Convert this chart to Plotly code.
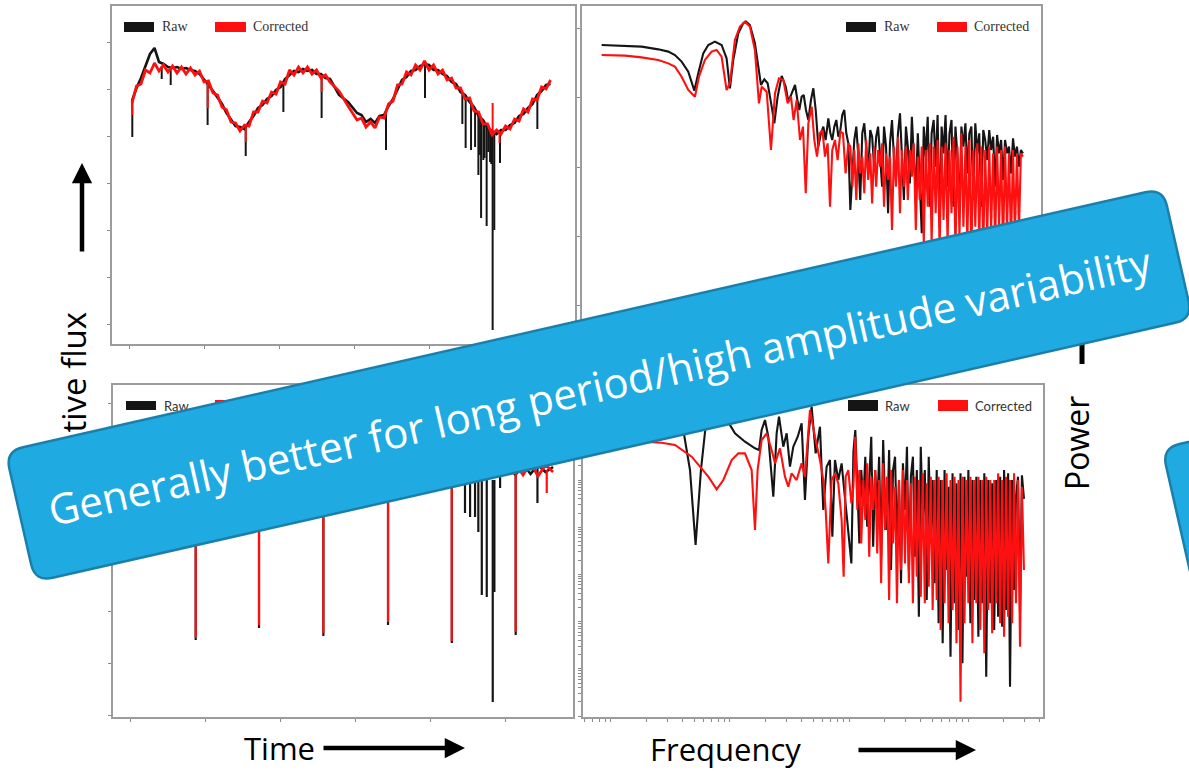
import math
import plotly.graph_objects as go

W, H = 1189, 771

# ---------------- data: top-left light curve (time in days, relative flux) ----------------
tl_time = [0.2, 0.5, 0.8, 1.1, 1.4, 1.7, 2.0, 2.3, 2.6, 2.9, 3.2, 3.5, 3.8, 4.1, 4.4, 4.7, 5.0, 5.3, 5.6, 5.9,
           6.2, 6.5, 6.8, 7.1, 7.4, 7.7, 8.0, 8.3, 8.6, 8.9, 9.2, 9.5, 9.8, 10.1, 10.4, 10.7, 11.0, 11.3, 11.6, 11.9,
           12.2, 12.5, 12.8, 13.1, 13.4, 14.0, 14.6, 15.2, 15.5, 15.8, 16.1, 16.4, 16.7, 17.0, 17.3, 17.6, 17.9, 18.2,
           18.5, 18.8, 19.1, 19.4, 19.7, 20.0, 20.3, 20.6, 20.9, 21.2, 21.5, 21.8, 22.1, 22.4, 22.7, 23.0, 23.3, 23.6,
           23.9, 24.2, 24.5, 24.8, 25.1, 25.4, 25.7, 26.0, 26.3, 26.6, 26.9, 27.2, 27.5, 27.8, 28.1]
tl_raw_flux = [0.899, 0.912, 0.922, 0.935, 0.946, 0.952, 0.938, 0.936, 0.933, 0.932, 0.933, 0.931, 0.932, 0.930, 0.929,
               0.926, 0.921, 0.915, 0.909, 0.902, 0.896, 0.887, 0.881, 0.874, 0.873, 0.871, 0.878, 0.884, 0.892, 0.895,
               0.901, 0.904, 0.910, 0.913, 0.921, 0.925, 0.929, 0.928, 0.931, 0.929, 0.930, 0.926, 0.926, 0.922, 0.921,
               0.905, 0.898, 0.887,
               0.885, 0.878, 0.881, 0.877, 0.884, 0.885, 0.894, 0.901, 0.911, 0.920, 0.923, 0.929, 0.930, 0.934, 0.936,
               0.935, 0.930, 0.930, 0.926, 0.924, 0.918, 0.916, 0.908, 0.905, 0.898, 0.893, 0.884, 0.880, 0.872, 0.869,
               0.866, 0.870, 0.870, 0.875, 0.877, 0.884, 0.886, 0.892, 0.896, 0.905, 0.909, 0.915, 0.916]
tl_cor_flux = [0.897, 0.914, 0.916, 0.930, 0.927, 0.937, 0.929, 0.935, 0.928, 0.934, 0.927, 0.933, 0.926, 0.932, 0.925,
               0.929, 0.918, 0.919, 0.907, 0.905, 0.893, 0.890, 0.878, 0.877, 0.869, 0.875, 0.874, 0.888, 0.888, 0.899,
               0.897, 0.908, 0.906, 0.918, 0.916, 0.930, 0.925, 0.933, 0.927, 0.933, 0.926, 0.930, 0.922, 0.925, 0.918,
               0.909, 0.894, 0.880,
               0.882, 0.873, 0.878, 0.872, 0.883, 0.882, 0.896, 0.899, 0.915, 0.916, 0.928, 0.925, 0.935, 0.930, 0.939,
               0.930, 0.935, 0.926, 0.930, 0.920, 0.922, 0.912, 0.912, 0.901, 0.902, 0.889, 0.888, 0.876, 0.876, 0.865,
               0.870, 0.866, 0.874, 0.871, 0.881, 0.879, 0.891, 0.888, 0.901, 0.900, 0.913, 0.911, 0.920]
tl_raw_spike_time = [0.22, 2.18, 2.78, 5.24, 7.78, 10.29, 12.84, 17.13, 19.73, 22.22, 22.44, 22.80, 23.07, 23.29,
                     23.40, 23.47, 23.62, 23.70, 23.84, 23.95, 24.07, 24.15, 24.24, 24.35, 24.73, 27.22]
tl_raw_spike_top = [0.900, 0.934, 0.932, 0.917, 0.873, 0.918, 0.925, 0.890, 0.935, 0.908, 0.905, 0.898, 0.891, 0.885,
                    0.883, 0.882, 0.880, 0.878, 0.875, 0.873, 0.871, 0.869, 0.868, 0.868, 0.868, 0.905]
tl_raw_spike_tip = [0.863, 0.921, 0.915, 0.875, 0.844, 0.888, 0.882, 0.850, 0.902, 0.876, 0.852, 0.850, 0.853, 0.825,
                    0.845, 0.782, 0.840, 0.842, 0.774, 0.848, 0.838, 0.836, 0.670, 0.770, 0.837, 0.871]
tl_cor_spike_time = [0.22, 5.25, 7.78, 12.84, 24.24, 24.70]
tl_cor_spike_top = [0.900, 0.917, 0.873, 0.925, 0.868, 0.868]
tl_cor_spike_tip = [0.885, 0.892, 0.858, 0.908, 0.897, 0.857]

# ---------------- data: bottom-left light curve ----------------
bl_time = [0.2, 0.7, 1.2, 1.7, 2.2, 2.7, 3.2, 3.7, 4.2, 4.7, 5.2, 5.7, 6.2, 6.7, 7.2, 7.7, 8.2, 8.7, 9.2, 9.7,
           10.2, 10.7, 11.2, 11.7, 12.2, 12.7, 13.2, 13.7, 14.2, 14.7, 15.2, 15.7, 16.2, 16.7, 17.2, 17.7, 18.2, 18.7,
           19.2, 19.7, 20.2, 20.7, 21.2, 21.7, 22.2, 22.7, 23.2, 23.7, 24.2, 24.7, 25.2, 25.7, 26.2, 26.7, 27.2, 27.7,
           28.2]
bl_raw_flux = [0.920, 0.916, 0.923, 0.918, 0.921, 0.915, 0.922, 0.919, 0.920, 0.917,
               0.923, 0.918, 0.920, 0.916, 0.922, 0.919, 0.921, 0.917, 0.923, 0.918,
               0.920, 0.916, 0.922, 0.919, 0.921, 0.915, 0.923, 0.918, 0.920, 0.917,
               0.922, 0.918, 0.921, 0.916, 0.923, 0.919, 0.920, 0.917, 0.922, 0.918,
               0.921, 0.916, 0.922, 0.918, 0.910, 0.915, 0.905, 0.912, 0.908, 0.914,
               0.918, 0.910, 0.921, 0.911, 0.920, 0.913, 0.918]
bl_cor_flux = [0.915, 0.921, 0.917, 0.923, 0.918, 0.922, 0.916, 0.921, 0.919, 0.924,
               0.917, 0.921, 0.918, 0.923, 0.916, 0.920, 0.918, 0.922, 0.917, 0.921,
               0.919, 0.924, 0.916, 0.921, 0.918, 0.922, 0.917, 0.923, 0.918, 0.921,
               0.916, 0.922, 0.919, 0.923, 0.917, 0.921, 0.918, 0.922, 0.916, 0.921,
               0.919, 0.923, 0.917, 0.922, 0.918, 0.921, 0.916, 0.922, 0.918, 0.923,
               0.912, 0.921, 0.910, 0.922, 0.909, 0.920, 0.913]
bl_raw_spike_time = [4.38, 8.60, 12.89, 17.20, 21.45, 22.33, 22.67, 23.00, 23.22, 23.45, 23.78, 24.18, 24.29, 24.67,
                     25.71, 27.16]
bl_raw_spike_top = [0.920, 0.919, 0.921, 0.920, 0.919, 0.912, 0.910, 0.908, 0.908, 0.906, 0.905, 0.905, 0.905, 0.910,
                    0.920, 0.918]
bl_raw_spike_tip = [0.745, 0.757, 0.749, 0.760, 0.742, 0.872, 0.868, 0.868, 0.853, 0.790, 0.788, 0.683, 0.793, 0.897,
                    0.750, 0.882]
bl_cor_spike_time = [4.38, 8.60, 12.89, 17.20, 21.45, 25.71, 27.78]
bl_cor_spike_top = [0.920, 0.919, 0.921, 0.920, 0.919, 0.920, 0.915]
bl_cor_spike_tip = [0.747, 0.760, 0.752, 0.763, 0.744, 0.753, 0.892]

# ---------------- data: power spectra (log10 frequency, log10 power) ----------------
hf_log10_freq = [1.020, 1.037, 1.053, 1.070, 1.087, 1.103, 1.120, 1.137, 1.153, 1.170,
                 1.187, 1.203, 1.220, 1.237, 1.253, 1.270, 1.287, 1.303, 1.320, 1.337,
                 1.353, 1.370, 1.387, 1.403, 1.420, 1.437, 1.453, 1.470, 1.487, 1.503,
                 1.520, 1.537, 1.553, 1.570, 1.587, 1.603, 1.620, 1.637, 1.653, 1.670,
                 1.687, 1.703, 1.720, 1.737, 1.753, 1.770, 1.787, 1.803, 1.820, 1.837,
                 1.853, 1.870, 1.887, 1.903, 1.920, 1.937, 1.953, 1.970, 1.987, 2.003,
                 2.020, 2.037, 2.053, 2.070, 2.087, 2.103, 2.120, 2.137, 2.153, 2.170,
                 2.187, 2.203, 2.220, 2.237, 2.253, 2.270, 2.287, 2.303, 2.320, 2.337,
                 2.353, 2.370, 2.387, 2.403, 2.420, 2.437, 2.453, 2.470]

tr_raw_lo_log10_freq = [-1.070, -0.874, -0.734, -0.594, -0.510, -0.454, -0.398, -0.342, -0.291, -0.258, -0.216,
                        -0.174, -0.118, -0.062, -0.020, 0.008, 0.036, 0.078, 0.120, 0.143, 0.176, 0.218, 0.246,
                        0.269, 0.297, 0.325, 0.359, 0.381, 0.409, 0.443, 0.477, 0.499, 0.527, 0.555, 0.575, 0.591,
                        0.611, 0.628, 0.647, 0.667, 0.689, 0.709, 0.729, 0.751, 0.773, 0.793, 0.812, 0.835, 0.852,
                        0.868, 0.885, 0.902, 0.919, 0.936, 0.952, 0.969, 0.986, 1.003]
tr_raw_lo_log10_power = [-0.232, -0.242, -0.256, -0.295, -0.328, -0.377, -0.473, -0.618, -0.894, -0.643, -0.353,
                         -0.232, -0.184, -0.232, -0.425, -0.860, -0.449, -0.063, 0.082, 0.106, 0.058, -0.208, -0.546,
                         -0.812, -0.729, -0.787, -1.126, -1.367, -0.981, -0.681, -0.836, -1.053, -0.932, -0.812,
                         -1.029, -1.174, -0.981, -0.957, -1.174, -1.319, -1.029, -0.860, -1.174, -1.705, -1.512,
                         -1.415, -1.609, -1.295, -1.512, -1.609, -1.415, -1.319, -1.561, -1.464, -1.246, -1.174,
                         -1.512, -1.657]
tr_raw_hi_log10_power = [-2.623, -1.995, -1.609, -1.415, -1.850, -2.478, -1.512, -1.367, -1.705, -2.092,
                         -1.464, -1.561, -1.995, -1.561, -1.415, -1.850, -2.285, -1.415, -1.705, -2.671,
                         -1.657, -1.319, -1.899, -2.188, -1.512, -1.222, -1.754, -2.478, -1.415, -1.705,
                         -2.237, -1.271, -1.850, -2.381, -1.512, -2.285, -2.961, -1.415, -1.850, -1.271,
                         -2.575, -1.512, -1.319, -1.995, -1.246, -2.865, -1.415, -1.802, -1.246, -2.285,
                         -1.512, -1.319, -2.575, -1.415, -1.850, -2.671, -1.415, -1.705, -1.367, -2.092,
                         -1.512, -1.415, -2.478, -1.367, -1.802, -1.512, -2.575, -1.464, -1.609, -1.899,
                         -1.464, -1.754, -1.561, -2.285, -1.536, -1.802, -1.609, -2.188, -1.609, -1.802,
                         -1.705, -2.092, -1.585, -1.850, -1.705, -1.995, -1.754, -1.802]
tr_cor_lo_log10_freq = [-1.070, -0.874, -0.734, -0.594, -0.510, -0.454, -0.398, -0.342, -0.286, -0.252, -0.202,
                        -0.146, -0.104, -0.062, -0.020, 0.008, 0.050, 0.092, 0.134, 0.176, 0.218, 0.252, 0.275,
                        0.317, 0.353, 0.387, 0.420, 0.457, 0.493, 0.521, 0.543, 0.569, 0.597, 0.622, 0.645, 0.667,
                        0.695, 0.717, 0.740, 0.762, 0.785, 0.807, 0.829, 0.849, 0.868, 0.891, 0.913, 0.936, 0.958,
                        0.980, 1.003]
tr_cor_lo_log10_power = [-0.377, -0.386, -0.411, -0.449, -0.498, -0.546, -0.691, -0.884, -0.981, -0.691, -0.449,
                         -0.328, -0.304, -0.401, -0.884, -0.787, -0.159, 0.034, 0.106, 0.034, -0.304, -1.077, -0.836,
                         -0.908, -1.754, -0.932, -0.715, -0.739, -1.077, -0.981, -1.319, -1.029, -1.609, -1.415,
                         -2.381, -1.367, -1.126, -1.609, -1.850, -1.512, -1.464, -1.850, -1.657, -2.575, -1.754,
                         -1.609, -1.899, -1.488, -1.512, -2.092, -1.657]
tr_cor_hi_log10_power = [-1.705, -2.285, -1.754, -2.478, -1.657, -2.092, -1.850, -2.381, -1.609, -2.188,
                         -1.802, -2.527, -1.705, -2.285, -1.754, -1.995, -1.657, -2.575, -1.802, -2.188,
                         -1.850, -2.913, -1.705, -2.285, -1.561, -2.671, -1.754, -2.285, -1.705, -2.478,
                         -1.754, -2.140, -1.657, -2.913, -1.850, -2.478, -1.705, -3.100, -1.754, -2.575,
                         -1.657, -3.100, -1.705, -2.671, -1.609, -3.200, -1.705, -2.768, -1.657, -3.100,
                         -1.754, -2.671, -1.561, -3.200, -1.705, -3.000, -1.512, -2.865, -1.705, -3.100,
                         -1.609, -3.300, -1.754, -2.865, -1.657, -3.100, -1.705, -3.200, -1.754, -3.000,
                         -1.705, -2.913, -1.802, -3.100, -1.705, -2.865, -1.754, -3.200, -1.705, -2.913,
                         -1.802, -3.100, -1.754, -3.000, -1.802, -2.913, -1.802, -1.850]

br_raw_lo_log10_freq = [-1.303, -1.022, -0.742, -0.518, -0.406, -0.336, -0.289, -0.244, -0.196, -0.126, -0.042,
                        0.042, 0.126, 0.210, 0.244, 0.266, 0.294, 0.322, 0.364, 0.392, 0.412, 0.448, 0.476, 0.504,
                        0.532, 0.569, 0.602, 0.630, 0.658, 0.686, 0.720, 0.756, 0.784, 0.812, 0.840, 0.860, 0.882,
                        0.910, 0.938, 0.966, 0.994]
br_raw_lo_log10_power = [1.659, 1.659, 1.625, 1.553, 1.271, 0.212, -1.377, 0.212, 1.341, 1.553, 1.341, 0.989, 0.812,
                         0.671, 0.636, 1.059, 1.271, 0.918, -0.353, 0.989, 1.341, 0.706, 0.989, 0.282, 0.706, 0.918,
                         1.200, -0.424, 0.918, 1.553, 0.565, 1.130, -0.636, 0.282, 0.424, -1.201, 0.424, 0.000,
                         0.353, -0.353, -1.059]
br_raw_hi_log10_power = [-1.766, 0.600,
                         1.059, -0.141, -1.342, 0.212, -0.494, 0.494, -0.989, 0.000, 0.918, -1.412,
                         0.212, -0.636, 0.494, -1.624, 0.847, -0.494, -1.059, 0.636, -1.907, 0.212,
                         0.494, -1.342, 0.000, -2.189, 0.353, -0.636, 0.706, -1.907, 0.071, 0.494,
                         -1.624, 0.212, -2.895, 0.706, -0.847, 0.212, -2.542, 0.494, -1.342, 0.000,
                         -2.189, 0.212, -3.037, 0.000, -3.460, 0.212, -1.907, -0.141, -3.743, 0.141,
                         -2.613, -0.071, -3.178, 0.141, -3.884, 0.071, -2.048, 0.212, -3.037, 0.000,
                         -2.542, 0.071, -3.319, 0.000, -2.613, 0.141, -4.167, 0.000, -2.613, -0.071,
                         -3.178, 0.000, -2.895, 0.071, -3.107, 0.212, -2.754, 0.141, -4.379, 0.000,
                         -2.331, -0.353,
                         0.071, -2.800, 0.100, -0.400]
br_cor_lo_log10_freq = [-1.303, -1.022, -0.742, -0.574, -0.462, -0.322, -0.182, -0.112, -0.056, 0.014, 0.070, 0.126,
                        0.182, 0.210, 0.232, 0.266, 0.308, 0.350, 0.378, 0.420, 0.462, 0.490, 0.518, 0.560, 0.602,
                        0.630, 0.672, 0.714, 0.756, 0.784, 0.804, 0.826, 0.854, 0.882, 0.910, 0.938, 0.955, 0.972,
                        0.994]
br_cor_lo_log10_power = [0.812, 0.812, 0.812, 0.791, 0.742, 0.494, 0.071, -0.198, 0.000, 0.424, 0.565, 0.565, 0.212,
                         -1.059, 0.212, 0.847, 0.989, 0.636, 0.353, 0.671, 0.071, -0.141, 0.141, 0.000, 0.353, 0.071,
                         1.483, 0.918, 0.424, 0.000, -0.636, -1.766, 0.000, 0.141, -0.071, -0.847, -2.048, 0.071,
                         0.212]
br_cor_hi_log10_power = [-0.494, -0.141, 0.918, -0.636, 0.212, -1.342, 0.000, -0.847, 0.353, -1.624,
                         0.071, -0.636, 0.212, -1.554, 0.000, -2.189, 0.353, -1.059, 0.071, -2.542,
                         0.212, -1.342, -0.141, -2.613, 0.000, -1.907, 0.212, -1.766, 0.000, -2.189,
                         -0.071, -2.613, 0.071, -2.048, 0.000, -2.472, 0.141, -2.613, -0.071, -2.260,
                         0.071, -2.754, 0.000, -2.542, 0.071, -3.178, 0.000, -2.613, 0.141, -3.037,
                         0.000, -2.754, 0.071, -3.460, 0.000, -4.696, 0.071, -3.037, 0.000, -2.613,
                         0.071, -3.460, 0.000, -2.613, 0.071, -3.178, 0.000, -3.672, 0.071, -2.754,
                         0.000, -3.249, 0.000, -2.613, 0.141, -3.037, 0.000, -3.319, 0.071, -2.895,
                         0.000, -3.037, 0.141, -2.613, 0.000, -3.531, -0.141, -1.907]

legend_names = ["Raw", "Corrected"]
callout_text = "Generally better for long period/high amplitude variability"

for a, b in [(tl_time, tl_raw_flux), (tl_time, tl_cor_flux), (bl_time, bl_raw_flux), (bl_time, bl_cor_flux),
             (tr_raw_lo_log10_freq, tr_raw_lo_log10_power), (tr_cor_lo_log10_freq, tr_cor_lo_log10_power),
             (hf_log10_freq, tr_raw_hi_log10_power), (hf_log10_freq, tr_cor_hi_log10_power),
             (br_raw_lo_log10_freq, br_raw_lo_log10_power), (br_cor_lo_log10_freq, br_cor_lo_log10_power),
             (hf_log10_freq, br_raw_hi_log10_power), (hf_log10_freq, br_cor_hi_log10_power)]:
    assert len(a) == len(b), (len(a), len(b))

# ---------------- styling ----------------
BLACK = "#151515"
RED = "#ff1010"
FRAME = "#9c9c9c"
BLUE = "#1fabe1"
BLUE_EDGE = "#1b7fab"


def spikes(t, top, tip):
    xs, ys = [], []
    for a, b, c in zip(t, top, tip):
        xs += [a, a, None]
        ys += [b, c, None]
    return xs, ys


def pw(v):
    return [10 ** x for x in v]


fig = go.Figure()


def add_line(x, y, color, xa, ya, width=1.6):
    fig.add_trace(go.Scatter(x=x, y=y, mode="lines", line=dict(color=color, width=width),
                             xaxis=xa, yaxis=ya, showlegend=False, hoverinfo="skip"))


# top-left
add_line(tl_time, tl_raw_flux, BLACK, "x", "y", 2.6)
sx, sy = spikes(tl_raw_spike_time, tl_raw_spike_top, tl_raw_spike_tip)
add_line(sx, sy, BLACK, "x", "y", 2)
add_line(tl_time, tl_cor_flux, RED, "x", "y", 2.8)
sx, sy = spikes(tl_cor_spike_time, tl_cor_spike_top, tl_cor_spike_tip)
add_line(sx, sy, RED, "x", "y", 2)

# top-right
add_line(pw(tr_raw_lo_log10_freq + hf_log10_freq), pw(tr_raw_lo_log10_power + tr_raw_hi_log10_power),
         BLACK, "x2", "y2", 2.1)
add_line(pw(tr_cor_lo_log10_freq + hf_log10_freq), pw(tr_cor_lo_log10_power + tr_cor_hi_log10_power),
         RED, "x2", "y2", 2.1)

# bottom-left
add_line(bl_time, bl_raw_flux, BLACK, "x3", "y3", 2.6)
sx, sy = spikes(bl_raw_spike_time, bl_raw_spike_top, bl_raw_spike_tip)
add_line(sx, sy, BLACK, "x3", "y3", 2.2)
add_line(bl_time, bl_cor_flux, RED, "x3", "y3", 2.8)
sx, sy = spikes(bl_cor_spike_time, bl_cor_spike_top, bl_cor_spike_tip)
add_line(sx, sy, RED, "x3", "y3", 2.2)

# bottom-right
add_line(pw(br_raw_lo_log10_freq + hf_log10_freq), pw(br_raw_lo_log10_power + br_raw_hi_log10_power),
         BLACK, "x4", "y4", 2.1)
add_line(pw(br_cor_lo_log10_freq + hf_log10_freq), pw(br_cor_lo_log10_power + br_cor_hi_log10_power),
         RED, "x4", "y4", 2.1)


def frame(**kw):
    d = dict(showline=True, mirror=True, linecolor=FRAME, linewidth=1.5, showgrid=False, zeroline=False,
             showticklabels=False, ticks="outside", ticklen=3, tickcolor="#8a8a8a", tickwidth=1)
    d.update(kw)
    return d


def X(px):
    return px / W


def Y(py):
    return 1 - py / H


fig.update_layout(
    width=W, height=H, margin=dict(l=0, r=0, t=0, b=0),
    paper_bgcolor="white", plot_bgcolor="white", showlegend=False,
    xaxis=frame(domain=[X(112), X(575)], range=[-1.133, 29.73], tick0=0, dtick=5, anchor="y"),
    yaxis=frame(domain=[Y(344), Y(6)], range=[0.656, 0.994], tick0=0.958, dtick=0.047, anchor="x"),
    xaxis2=frame(domain=[X(582), X(1041)], type="log", range=[-1.235, 2.622], dtick="D1", anchor="y2"),
    yaxis2=frame(domain=[Y(344), Y(6)], type="log", range=[-4.565, 0.333], dtick=1, anchor="x2"),
    xaxis3=frame(domain=[X(113), X(573)], range=[-1.133, 29.53], tick0=0, dtick=5, anchor="y3"),
    yaxis3=frame(domain=[Y(717), Y(385)], range=[0.668, 1.0], tick0=0.982, dtick=0.052, anchor="x3"),
    xaxis4=frame(domain=[X(583), X(1043)], type="log", range=[-1.235, 2.630], dtick="D1", anchor="y4"),
    yaxis4=frame(domain=[Y(717), Y(385)], type="log", range=[-5.021, 2.013], dtick="D1", anchor="x4"),
)


def pp(pt):
    return f"{pt[0] / W:.5f},{1 - pt[1] / H:.5f}"


def rot_rect(cx, cy, w, h, ang_deg):
    a = math.radians(ang_deg)
    ux, uy = math.cos(a), -math.sin(a)
    vx, vy = math.sin(a), math.cos(a)
    hw, hh = w / 2, h / 2
    return [(cx - hw * ux - hh * vx, cy - hw * uy - hh * vy),
            (cx + hw * ux - hh * vx, cy + hw * uy - hh * vy),
            (cx + hw * ux + hh * vx, cy + hw * uy + hh * vy),
            (cx - hw * ux + hh * vx, cy - hw * uy + hh * vy)]


def rounded_path(pts, r):
    n = len(pts)
    s = ""
    for i in range(n):
        P = pts[i]
        A = pts[i - 1]
        B = pts[(i + 1) % n]

        def toward(Q):
            dx, dy = Q[0] - P[0], Q[1] - P[1]
            L = math.hypot(dx, dy)
            return (P[0] + dx / L * r, P[1] + dy / L * r)

        p1, p2 = toward(A), toward(B)
        s += ("M" if i == 0 else "L") + pp(p1) + " Q" + pp(P) + " " + pp(p2) + " "
    return s + "Z"


def rect(x0, y0, x1, y1, color):
    return dict(type="rect", xref="paper", yref="paper", x0=X(x0), x1=X(x1), y0=Y(y1), y1=Y(y0),
                fillcolor=color, line=dict(width=0), layer="above")


def label_box(cx, cy, text, size, color, family, angle=0, pos="middle center", w=10, h=10):
    return dict(type="rect", xref="paper", yref="paper",
                x0=X(cx - w / 2), x1=X(cx + w / 2), y0=Y(cy + h / 2), y1=Y(cy - h / 2),
                fillcolor="rgba(0,0,0,0)", line=dict(width=0), layer="above",
                label=dict(text=text, textangle=angle, textposition=pos, padding=0,
                           font=dict(family=family, size=size, color=color)))


ANG = 12.8
shapes = [
    # legend swatches
    rect(124, 22, 154, 32, BLACK), rect(215, 22, 246, 32, RED),
    rect(846, 22, 876, 32, BLACK), rect(937, 22, 967, 32, RED),
    rect(126, 401, 156, 410, BLACK), rect(215, 400, 246, 410, RED),
    rect(848, 400, 878, 411, BLACK), rect(938, 400, 968, 411, RED),
    # bottom-left legend texts (partly under the callout)
    label_box(161 + 30, 405.5, legend_names[0], 13, "#333333", "Lato", pos="middle left", w=60, h=12),
    label_box(251 + 40, 405.5, legend_names[1], 13, "#333333", "Lato", pos="middle left", w=80, h=12),
    # y-axis label on the left (partly hidden by the callout)
    label_box(75, 405, "Relative flux", 33, "black", "Open Sans", angle=-90),
    # tail of the Power arrow
    dict(type="line", xref="paper", yref="paper", x0=X(1082), x1=X(1082), y0=Y(364), y1=Y(240),
         line=dict(color="black", width=5), layer="above"),
    # main callout
    dict(type="path", xref="paper", yref="paper", layer="above",
         path=rounded_path(rot_rect(599, 385, 1187, 134, ANG), 18),
         fillcolor=BLUE, line=dict(color=BLUE_EDGE, width=2.5)),
]
a = math.radians(ANG)
tlx, tly = 1162, 448
cx2 = tlx + 160 * math.cos(a) + 160 * math.sin(a)
cy2 = tly - 160 * math.sin(a) + 160 * math.cos(a)
shapes.append(dict(type="path", xref="paper", yref="paper", layer="above",
                   path=rounded_path(rot_rect(cx2, cy2, 320, 320, ANG), 18),
                   fillcolor=BLUE, line=dict(color=BLUE_EDGE, width=2.5)))
shapes.append(label_box(600, 388, callout_text, 42, "white", "Open Sans", angle=-ANG))
fig.update_layout(shapes=shapes)

ann = []


def text(x, y, s, size, family, color="black", xanchor="center", angle=0):
    ann.append(dict(x=X(x), y=Y(y), xref="paper", yref="paper", text=s, showarrow=False,
                    xanchor=xanchor, yanchor="middle", textangle=angle,
                    font=dict(size=size, family=family, color=color)))


text(160, 27, legend_names[0], 14, "Liberation Serif", "#333333", "left")
text(251, 27, legend_names[1], 14, "Liberation Serif", "#333333", "left")
text(882, 27, legend_names[0], 14, "Liberation Serif", "#333333", "left")
text(972, 27, legend_names[1], 14, "Liberation Serif", "#333333", "left")
text(883, 405.5, legend_names[0], 13, "Lato", "#333333", "left")
text(973, 405.5, legend_names[1], 13, "Lato", "#333333", "left")
text(279, 748, "Time", 31, "Open Sans")
text(725, 749, "Frequency", 31, "Open Sans")
text(1077, 443, "Power", 32, "Open Sans", angle=-90)


def arrow(tx, ty, dx, dy):
    ann.append(dict(x=X(tx), y=Y(ty), xref="paper", yref="paper", text="", showarrow=True,
                    ax=dx, ay=dy, axref="pixel", ayref="pixel",
                    arrowhead=2, arrowsize=0.9, arrowwidth=4.5, arrowcolor="black"))


arrow(82, 163, 0, 90)
arrow(465, 748, -143, 0)
arrow(976, 750, -119, 0)
fig.update_layout(annotations=ann)

fig.write_html("out.html")
